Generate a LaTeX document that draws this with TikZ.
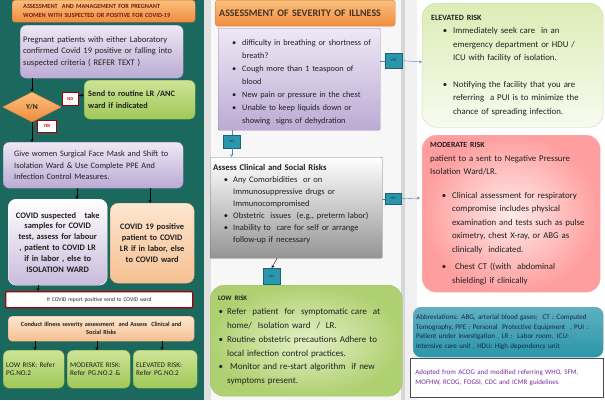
\documentclass[tikz,border=0pt]{standalone}
\usepackage{fontspec}
\setmainfont{Carlito}
\usepackage{enumitem}
\setlist[itemize]{nosep,label=\textbullet}
\usetikzlibrary{arrows,shapes.geometric}

\definecolor{tealbg}{RGB}{26,104,94}
\definecolor{orangetop}{RGB}{250,192,125}
\definecolor{orangebot}{RGB}{240,140,62}
\definecolor{orangeline}{RGB}{215,120,50}
\definecolor{purpletop}{RGB}{238,232,245}
\definecolor{purplebot}{RGB}{188,170,212}
\definecolor{purpleline}{RGB}{150,132,182}
\definecolor{greentop}{RGB}{205,228,150}
\definecolor{greenbot}{RGB}{160,200,88}
\definecolor{greenline}{RGB}{120,160,60}
\definecolor{peachtop}{RGB}{253,230,208}
\definecolor{peachbot}{RGB}{245,192,145}
\definecolor{tagfill}{RGB}{42,150,170}
\definecolor{tagline}{RGB}{28,98,118}
\definecolor{linkblue}{RGB}{80,130,190}
\definecolor{titletext}{RGB}{110,30,25}
\definecolor{darktext}{RGB}{32,32,32}
\definecolor{navytext}{RGB}{25,35,80}
\definecolor{noteviolet}{RGB}{120,45,160}

\begin{document}
\begin{tikzpicture}
        [x=1pt,y=-1pt,
        boxdecorate/.style={draw,rounded corners=6pt,anchor=north west,inner sep=4pt,text=darktext},%
        titledecorate/.style={boxdecorate,rounded corners=3pt,draw=orangeline,top color=orangetop,bottom color=orangebot},%
        purpledecorate/.style={boxdecorate,draw=purpleline,top color=purpletop,bottom color=purplebot},%
        greendecorate/.style={boxdecorate,draw=greenline,top color=greentop,bottom color=greenbot},%
        peachdecorate/.style={boxdecorate,draw=orangeline!70,top color=peachtop,bottom color=peachbot},%
        tagdecorate/.style={draw=red!65!black,fill=white,line width=1pt,anchor=north west,inner sep=0pt,
          text=red!75!black,font=\bfseries\fontsize{4.5}{5}\selectfont},%
        tealtag/.style={draw=tagline,fill=tagfill,anchor=north west,inner sep=0pt,
          text=navytext,font=\fontsize{3.5}{4}\selectfont},%
        arrowdecorate/.style={->,>=stealth,thin,black},%
        linkdecorate/.style={->,>=stealth,thin,linkblue}]
        %% panels
        \useasboundingbox (0,0) rectangle (605,400);
        \fill[white] (0,0) rectangle (605,400);
        \fill[tealbg] (0,0) rectangle (204,400);
        \fill[black!12] (204,0) rectangle (211,400);
        \fill[black!3] (211,0) rectangle (401,400);
        \fill[black!16] (401,0) rectangle (405,400);
        \fill[black!6] (405,0) rectangle (417,400);

        %% left panel
        \node (lefttitle) [titledecorate,minimum width=183pt,minimum height=22pt,text width=161pt,inner xsep=11pt,
          align=left,text=titletext,font=\bfseries\fontsize{6.3}{9}\selectfont] at (12,0)
          {ASSESSMENT~ AND MANAGEMENT FOR PREGNANT\\ WOMEN WITH SUSPECTED OR POSITIVE FOR COVID-19};
        \node (pregnant) [purpledecorate,minimum height=53pt,text width=157pt,inner xsep=3pt,align=left,
          font=\fontsize{8.5}{11.5}\selectfont] at (20,25)
          {\mbox{Pregnant patients with either Laboratory}\\ \mbox{confirmed Covid 19 positive or falling into}\\ suspected criteria ( REFER TEXT )};
        \node (yn) [diamond,aspect=2,draw=orangeline,top color=orangetop,bottom color=orangebot,
          minimum width=59pt,minimum height=30pt,inner sep=0pt,text=darktext,font=\bfseries\fontsize{7.5}{9}\selectfont]
          at (32,107) {Y/N};
        \node (routine) [greendecorate,minimum height=39pt,text width=103pt,align=left,
          font=\bfseries\fontsize{8.3}{11.5}\selectfont] at (84,80)
          {Send to routine LR /ANC\\ ward if indicated};
        \node (notag) [tagdecorate,minimum width=16pt,minimum height=13pt] at (62,92) {NO};
        \node (yestag) [tagdecorate,minimum width=19pt,minimum height=12pt] at (37,120) {YES};
        \node (givemask) [purpledecorate,minimum height=46pt,text width=158pt,align=left,inner xsep=11pt,
          font=\fontsize{8.3}{11.8}\selectfont] at (3,142)
          {Give women Surgical Face Mask and Shift to\\ Isolation Ward \& Use Complete PPE And\\ Infection Control Measures.};
        \node (suspected) [boxdecorate,rounded corners=8pt,draw=white,top color=white,bottom color=purplebot!80,
          minimum height=86pt,text width=93pt,inner xsep=3pt,align=center,font=\bfseries\fontsize{8.4}{10.8}\selectfont] at (8,199)
          {COVID suspected~~ take\\ samples for COVID\\ test, assess for labour\\ , patient to COVID LR\\ if in labor , else to\\ ISOLATION WARD};
        \node (positive) [boxdecorate,rounded corners=8pt,draw=orangeline!60,top color=peachtop,bottom color=peachbot,
          minimum height=80pt,text width=78pt,inner xsep=3pt,align=center,font=\bfseries\fontsize{8.4}{10.8}\selectfont] at (110,203)
          {COVID 19 positive\\ patient to COVID\\ LR if in labor, else\\ to COVID ward\\[18pt]};
        \node (report) [boxdecorate,rounded corners=1pt,draw=red!65!black,line width=1.3pt,fill=white,
          minimum height=16pt,text width=179pt,align=center,font=\fontsize{5.6}{6}\selectfont] at (5,291)
          {If COVID report positive send to COVID ward};
        \node (conduct) [peachdecorate,rounded corners=4pt,minimum height=25pt,text width=178pt,align=center,
          font=\bfseries\fontsize{6.2}{7.8}\selectfont] at (8,316)
          {Conduct illness severity assessment~ and Assess~ Clinical and\\ Social Risks};
        \foreach \nodename/\x/\w/\riskname in {lowref/3/61/LOW RISK: Refer\\ PG.NO.2,
          modref/67/63/MODERATE RISK:\\ Refer PG.NO.2 \&, elevref/133/64/ELEVATED RISK:\\ Refer PG.NO.2}
        {
          \node (\nodename) [greendecorate,minimum width=\w pt,minimum height=38pt,text width=\w pt-6pt,inner xsep=3pt,
            align=left,font=\fontsize{7.2}{8.5}\selectfont] at (\x,350) {\riskname\\[8pt]};
        }
        %% left arrows
        \draw[arrowdecorate] (pregnant.south -| yn.north) -- (yn.north);
        \draw[arrowdecorate] (notag.east |- 0,95) -- (routine.west |- 0,95);
        \draw[thin] (yn.east) -- (notag.south west);
        \draw[arrowdecorate] (yn.south) -- (givemask.north -| yn.south);
        \draw[arrowdecorate] (givemask.south -| 77,0) -- (suspected.north -| 77,0);
        \draw[arrowdecorate] (givemask.south -| 150,0) -- (positive.north -| 150,0);
        \draw[arrowdecorate] (suspected.south -| 38,0) -- (report.north -| 38,0);
        \foreach \endnode/\x in {lowref/35, modref/97, elevref/162}
          \draw[arrowdecorate] (conduct.south -| \x,0) -- (\endnode.north -| \x,0);

        %% middle panel
        \node (midtitle) [titledecorate,minimum height=26pt,text width=172pt,align=left,
          text=darktext!80!orangeline,font=\bfseries\fontsize{10}{11}\selectfont] at (215,0)
          {ASSESSMENT OF SEVERITY OF ILLNESS};
        \node (symptoms) [purpledecorate,rounded corners=1pt,minimum height=102pt,text width=156pt,inner xsep=3pt,
          font=\fontsize{8.3}{13}\selectfont] at (218,28)
          {\begin{itemize}[leftmargin=21pt,labelsep=6pt]
            \item \mbox{difficulty in breathing or shortness of}\\ breath?
            \item Cough more than 1 teaspoon of\\ blood
            \item New pain or pressure in the chest
            \item Unable to keep liquids down or\\ showing~ signs of dehydration
          \end{itemize}};
        \node (yestagone) [tealtag,minimum width=17pt,minimum height=15pt] at (385,53) {YES};
        \node (notagone) [tealtag,minimum width=17pt,minimum height=13pt] at (223,135) {NO};
        \node (clinical) [boxdecorate,rounded corners=1pt,draw=black!55,top color=white,bottom color=black!42,
          minimum height=101pt,text width=166pt,inner xsep=3pt,font=\fontsize{8.5}{12}\selectfont] at (210,157)
          {{\bfseries\fontsize{8.7}{10}\selectfont Assess Clinical and Social Risks}
          \begin{itemize}[leftmargin=20pt,labelsep=5pt]
            \item Any Comorbidities~ or on\\ Immunosuppressive drugs or\\ Immunocompromised
            \item Obstetric~ issues~ (e.g., preterm labor)
            \item Inability to~ care for self or arrange\\ follow-up if necessary
          \end{itemize}\vspace{8pt}};
        \node (yestagtwo) [tealtag,minimum width=16pt,minimum height=11pt] at (385,193) {YES};
        \node (notagtwo) [tealtag,minimum width=17pt,minimum height=16pt] at (263,268) {NO};
        \node (lowrisk) [boxdecorate,rounded corners=14pt,draw=greenline!70,inner color=greentop!55,outer color=greenbot!85,
          minimum height=111pt,text width=176pt,inner xsep=8pt,font=\fontsize{9}{13.8}\selectfont] at (210,285)
          {{\bfseries\fontsize{6.8}{10}\selectfont LOW RISK}
          \begin{itemize}[leftmargin=9pt,labelsep=4pt]
            \item Refer~ patient~ for~ symptomatic care~ at\\ home/~ Isolation ward~ /~ LR.
            \item Routine obstetric precautions Adhere to\\ local infection control practices.
            \item ~Monitor and re-start algorithm~ if new\\ symptoms present.
          \end{itemize}};
        %% middle connectors
        \draw[thin,linkblue] (symptoms.east |- yestagone.west) -- (yestagone.west);
        \draw[linkdecorate] (yestagone.east) -- (422,62);
        \draw[thin,linkblue] (symptoms.south -| notagone.north) -- (notagone.north);
        \draw[linkdecorate] (notagone.south) -- (clinical.north -| notagone.south);
        \draw[thin,linkblue] (clinical.east |- yestagtwo.west) -- (yestagtwo.west);
        \draw[linkdecorate] (yestagtwo.east) -- (420,198);
        \draw[arrowdecorate] (clinical.south -| 277,0) -- (notagtwo.north);

        %% right panel
        \node (elevated) [boxdecorate,rounded corners=14pt,draw=greenline!40,top color=greentop!70,bottom color=greentop!15,
          minimum height=124pt,text width=163pt,inner xsep=9pt,font=\fontsize{8.8}{13.5}\selectfont] at (422,3)
          {{\bfseries\fontsize{8}{10}\selectfont ELEVATED RISK}
          \begin{itemize}[leftmargin=22pt,labelsep=6pt,itemsep=13pt]
            \item Immediately seek care~ in an\\ emergency department or HDU /\\ ICU with facility of isolation.
            \item Notifying the facility that you are\\ referring~ a PUI is to minimize the\\ chance of spreading infection.
          \end{itemize}};
        \node (moderate) [boxdecorate,rounded corners=14pt,draw=red!30,inner color=red!8,outer color=red!38!white,
          minimum height=157pt,text width=162pt,inner xsep=8pt,font=\fontsize{8.8}{13.5}\selectfont] at (422,135)
          {{\bfseries\fontsize{7.8}{10}\selectfont MODERATE RISK}\\ patient to a sent to Negative Pressure\\ Isolation Ward/LR.
          \begin{itemize}[leftmargin=22pt,labelsep=6pt,itemsep=4pt,topsep=10pt]
            \item Clinical assessment for respiratory\\ compromise includes physical\\ examination and tests such as pulse\\ oximetry, chest X-ray, or ABG as\\ clinically~ indicated.
            \item ~Chest CT ((with~ abdominal\\ shielding) if clinically
          \end{itemize}};
        \node (abbrev) [boxdecorate,rounded corners=8pt,draw=tagline!60,top color=tagfill!75,bottom color=tagfill,
          minimum height=50pt,text width=184pt,inner xsep=3pt,align=left,text=navytext,
          font=\fontsize{7.1}{9.7}\selectfont] at (413,307)
          {Abbreviations: ABG, arterial blood gases;~ CT : Computed\\ Tomography, PPE : Personal~ Protective Equipment~ , PUI :\\ Patient under investigation , LR :~ Labor room. ICU:\\ Intensive care unit , HDU: High dependency unit};
        \node (adopted) [draw=black!70,line width=0.8pt,fill=white,anchor=north west,inner xsep=5pt,
          minimum height=39pt,text width=183pt,align=left,text=noteviolet,
          font=\fontsize{7}{9.5}\selectfont] at (410,358)
          {Adopted from ACOG and modified referring WHO, SFM,\\ MOFHW, RCOG, FOGSI, CDC and ICMR guidelines};
      \end{tikzpicture}
\end{document}
